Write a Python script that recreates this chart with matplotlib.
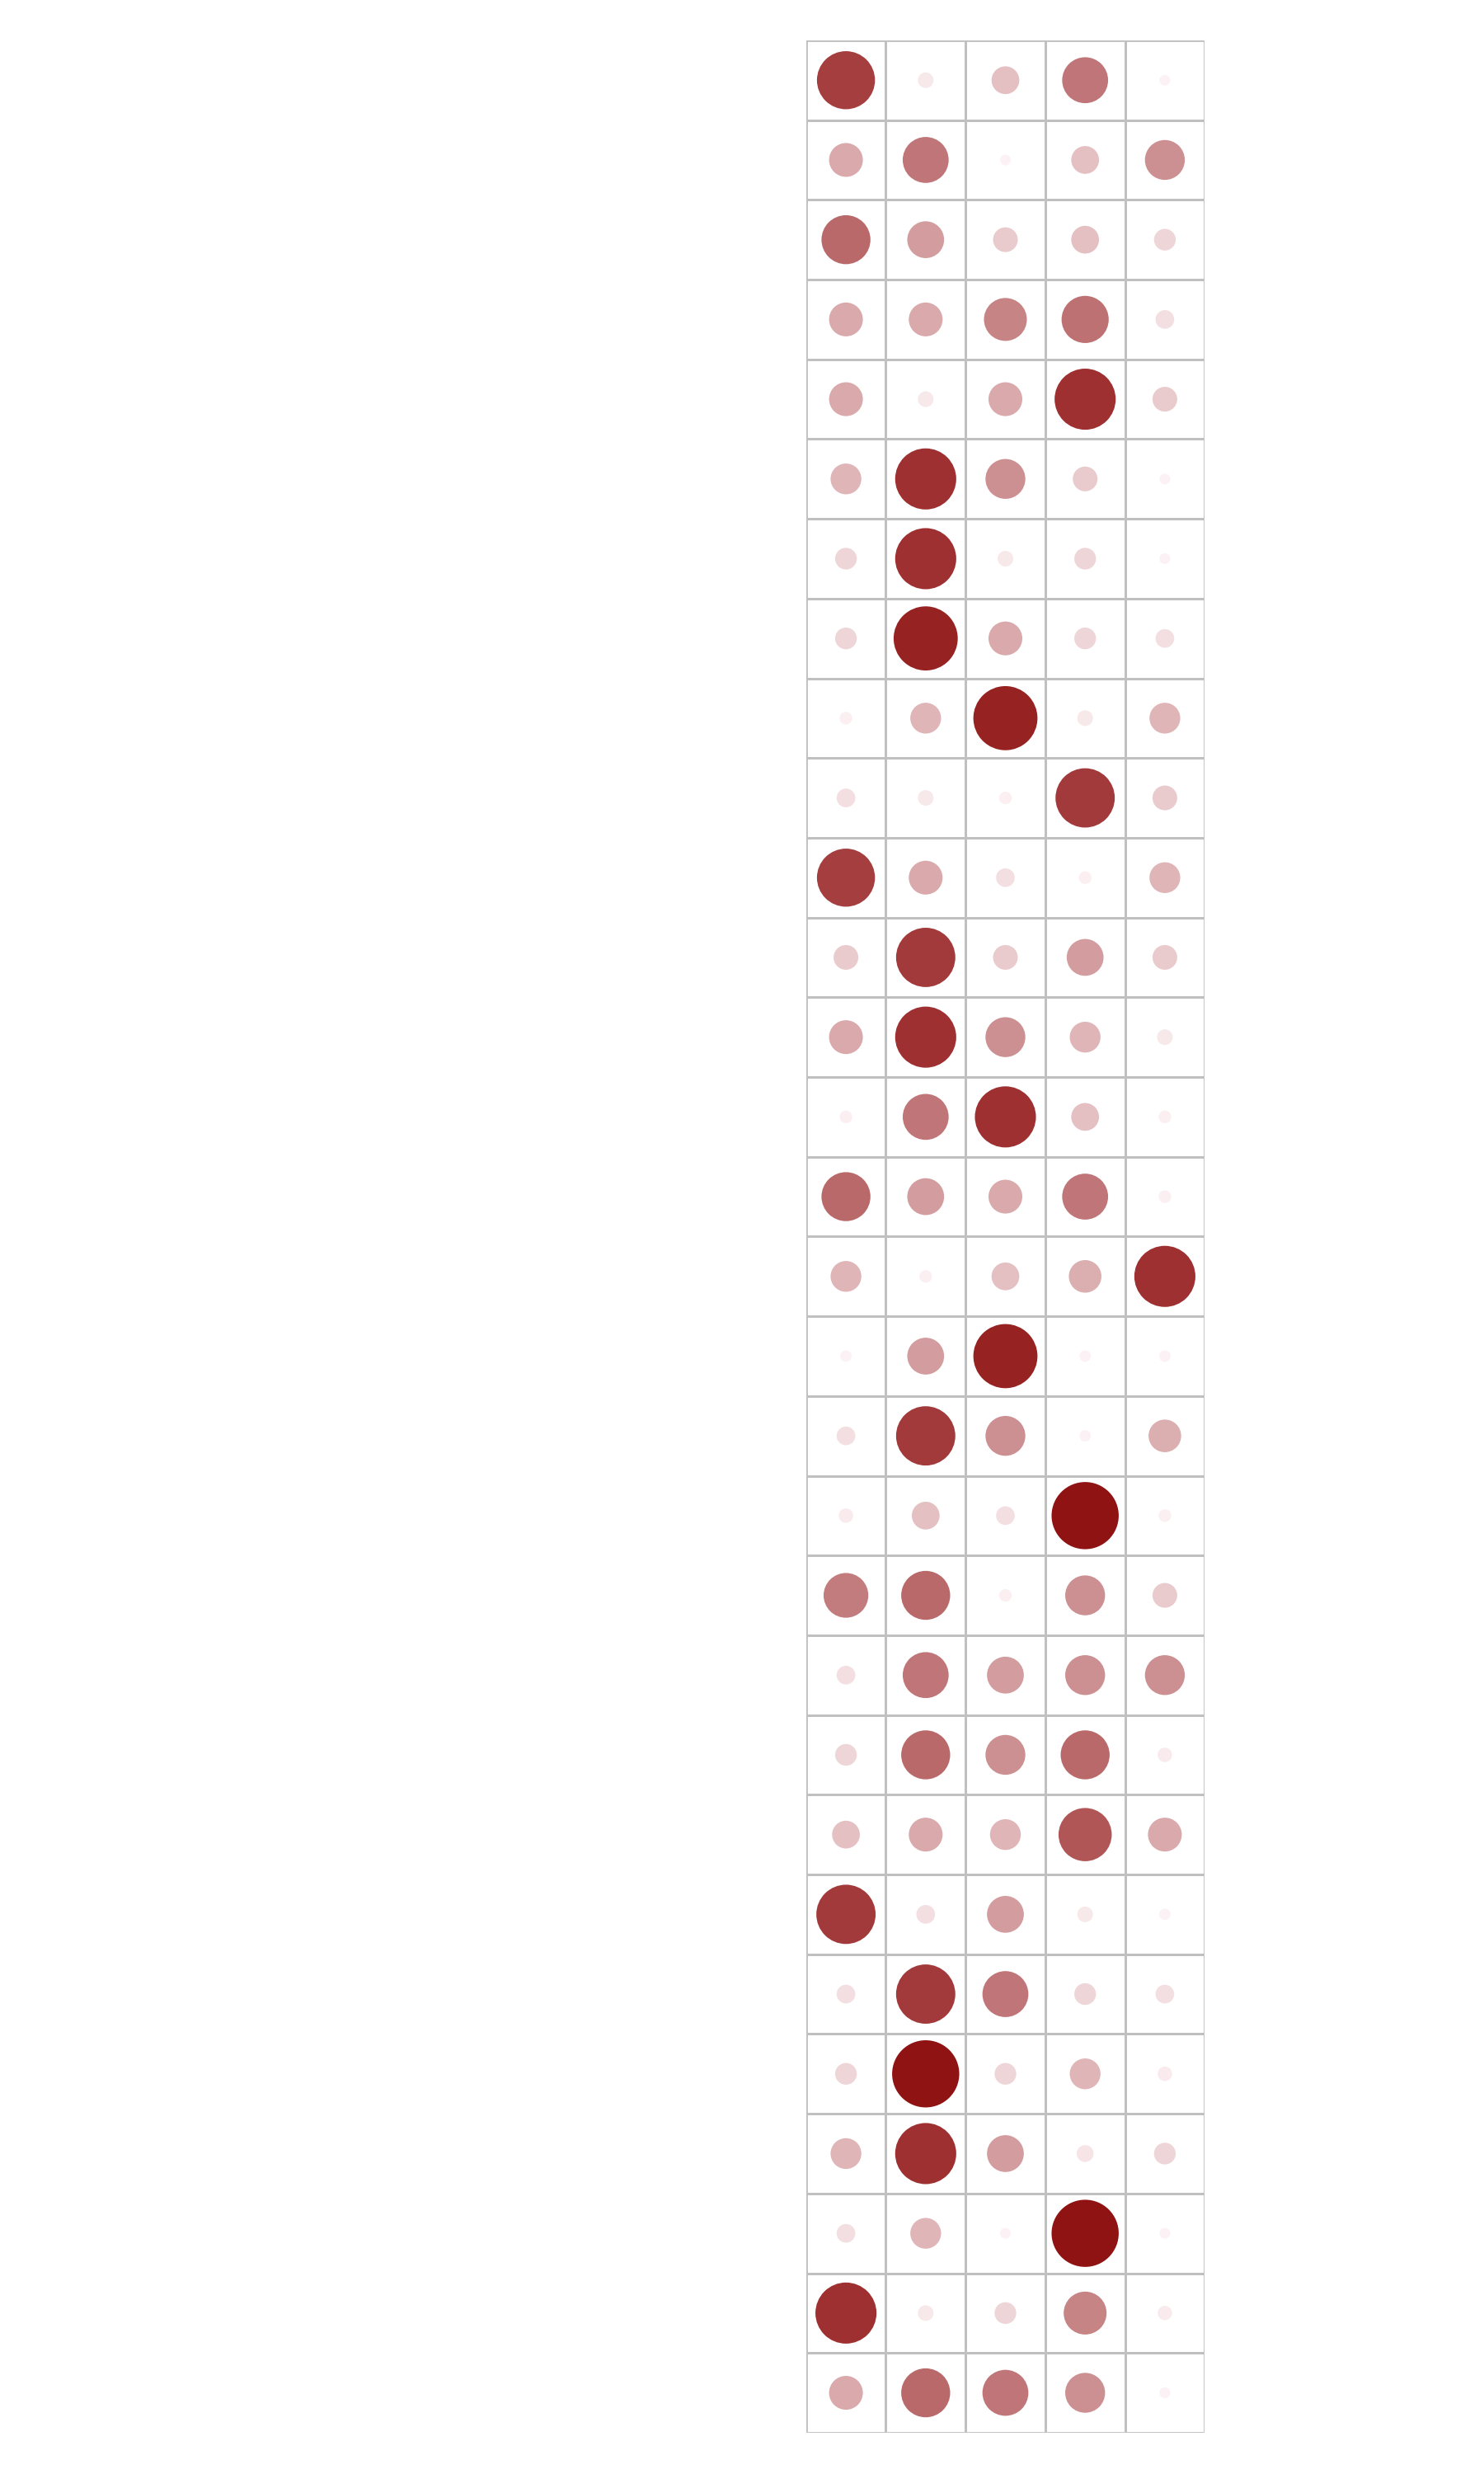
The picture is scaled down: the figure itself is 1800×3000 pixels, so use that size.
import matplotlib
matplotlib.use("Agg")
import matplotlib.pyplot as plt
from matplotlib.patches import Circle, Rectangle
import numpy as np

# values per row (top to bottom), 5 columns each
values = [
    [0.80, 0.10, 0.30, 0.60, 0.02],
    [0.40, 0.60, 0.02, 0.30, 0.50],
    [0.65, 0.45, 0.25, 0.30, 0.20],
    [0.40, 0.40, 0.55, 0.62, 0.15],
    [0.40, 0.10, 0.40, 0.85, 0.25],
    [0.35, 0.85, 0.50, 0.25, 0.02],
    [0.20, 0.85, 0.10, 0.20, 0.02],
    [0.20, 0.90, 0.40, 0.20, 0.15],
    [0.05, 0.35, 0.90, 0.10, 0.35],
    [0.15, 0.10, 0.05, 0.82, 0.25],
    [0.80, 0.40, 0.15, 0.05, 0.35],
    [0.25, 0.82, 0.25, 0.45, 0.25],
    [0.40, 0.85, 0.50, 0.35, 0.10],
    [0.05, 0.60, 0.85, 0.30, 0.05],
    [0.65, 0.45, 0.40, 0.60, 0.05],
    [0.35, 0.05, 0.30, 0.38, 0.85],
    [0.03, 0.45, 0.90, 0.03, 0.03],
    [0.15, 0.82, 0.50, 0.03, 0.38],
    [0.08, 0.30, 0.15, 0.95, 0.05],
    [0.58, 0.65, 0.05, 0.50, 0.25],
    [0.15, 0.60, 0.45, 0.50, 0.50],
    [0.20, 0.65, 0.50, 0.65, 0.08],
    [0.30, 0.40, 0.35, 0.72, 0.40],
    [0.82, 0.15, 0.45, 0.10, 0.03],
    [0.15, 0.82, 0.60, 0.20, 0.15],
    [0.20, 0.95, 0.20, 0.35, 0.08],
    [0.35, 0.85, 0.45, 0.12, 0.20],
    [0.15, 0.35, 0.02, 0.95, 0.02],
    [0.85, 0.10, 0.20, 0.55, 0.08],
    [0.40, 0.65, 0.60, 0.50, 0.02],
]

vals = np.array(values)
nrows, ncols = vals.shape

fig = plt.figure(figsize=(18, 30), dpi=100)
ax = fig.add_axes([0.543, 0.0167, 0.269, 0.967])
ax.set_xlim(0, ncols)
ax.set_ylim(nrows, 0)
ax.set_aspect("equal")
ax.axis("off")

dark = np.array([0.55, 0.05, 0.05])
light = np.array([0.99, 0.95, 0.96])

for r in range(nrows):
    for c in range(ncols):
        ax.add_patch(Rectangle((c, r), 1, 1, fill=False, ec="#c0c0c0", lw=2))
        v = vals[r, c]
        t = min(1, max(0, (v - 0.02) / 0.95)) ** 1.25
        col = light * (1 - t) + dark * t
        ax.add_patch(Circle((c + 0.5, r + 0.5), 0.06 + 0.38 * v, color=col, lw=0))

fig.savefig("out.png")
